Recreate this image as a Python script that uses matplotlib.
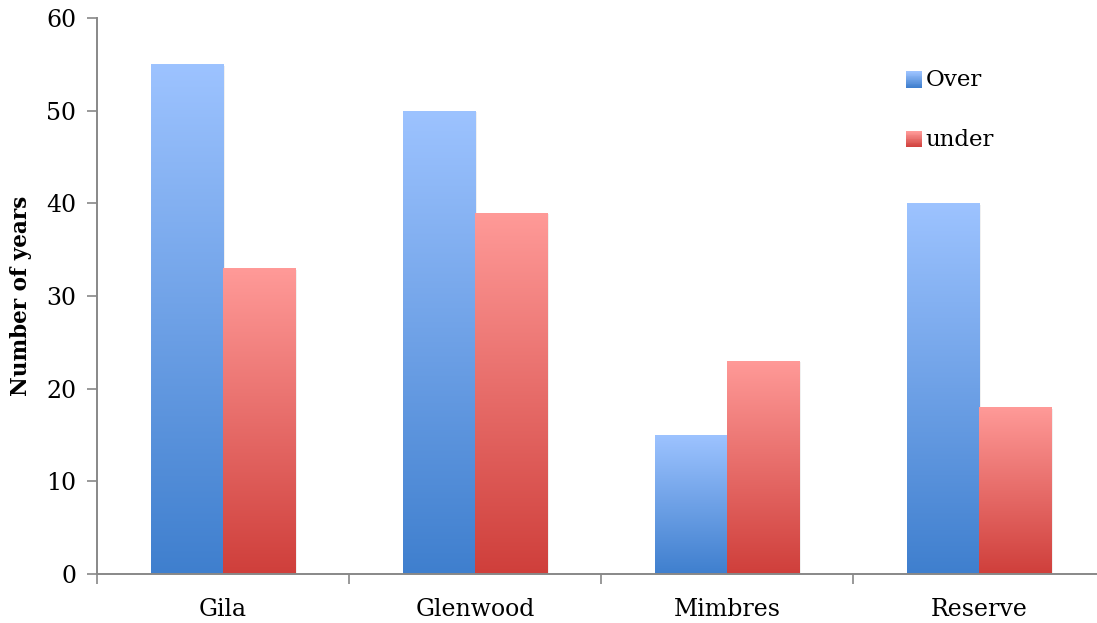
import numpy as np
import matplotlib
matplotlib.use("Agg")
import matplotlib.pyplot as plt
from matplotlib.colors import LinearSegmentedColormap
from matplotlib.patches import Rectangle
from matplotlib.legend_handler import HandlerBase

categories = ["Gila", "Glenwood", "Mimbres", "Reserve"]
over_values = [55, 50, 15, 40]
under_values = [33, 39, 23, 18]
series_names = ["Over", "under"]
y_ticks = [0, 10, 20, 30, 40, 50, 60]

blue_top, blue_bot = "#9DC3FF", "#3F7FCE"
red_top, red_bot = "#FF9A98", "#CF3F3B"

plt.rcParams["font.family"] = ["DejaVu Serif"]

fig = plt.figure(figsize=(10.97, 6.23), dpi=100)
ax = fig.add_axes([97 / 1097, 1 - 574 / 623, 1008 / 1097, (574 - 18) / 623])

x = np.arange(len(categories))
w = 0.286
bars_o = ax.bar(x - w / 2, over_values, w, color="none", edgecolor="none")
bars_u = ax.bar(x + w / 2, under_values, w, color="none", edgecolor="none")

grad = np.linspace(1, 0, 256).reshape(-1, 1)


def fill_gradient(bars, top, bot):
    cmap = LinearSegmentedColormap.from_list("g", [bot, top])
    for b in bars:
        x0, y0 = b.get_x(), b.get_y()
        bw, bh = b.get_width(), b.get_height()
        im = ax.imshow(grad, cmap=cmap, vmin=0, vmax=1, aspect="auto",
                       extent=[x0, x0 + bw, y0, y0 + bh], zorder=2,
                       interpolation="bilinear")
        im.set_clip_path(b)
        sh = Rectangle((x0 + 0.006, y0), bw, bh - 0.15, facecolor="#000000",
                       alpha=0.06, edgecolor="none", zorder=1.5)
        ax.add_patch(sh)


fill_gradient(bars_o, blue_top, blue_bot)
fill_gradient(bars_u, red_top, red_bot)

ax.set_xlim(-0.5, len(categories) - 0.5)
ax.set_ylim(0, 60)
ax.set_yticks(y_ticks)
ax.set_yticklabels([str(t) for t in y_ticks])
ax.set_xticks(x)
ax.set_xticklabels(categories)
ax.set_xticks(np.arange(-0.5, len(categories) + 0.5, 1), minor=True)
ax.tick_params(axis="x", which="major", length=0, pad=17, labelsize=17)
ax.tick_params(axis="x", which="minor", length=7, width=1.2, color="#888888", direction="out")
ax.tick_params(axis="y", length=7, width=1.2, color="#888888", labelsize=17, pad=8)

for s in ["top", "right"]:
    ax.spines[s].set_visible(False)
for s in ["left", "bottom"]:
    ax.spines[s].set_color("#888888")
    ax.spines[s].set_linewidth(1.4)

ax.set_ylabel("Number of years", fontsize=15.5, fontweight="bold", labelpad=10)


class GradHandler(HandlerBase):
    def __init__(self, top, bot):
        super().__init__()
        self.top, self.bot = top, bot

    def create_artists(self, legend, orig_handle, xdescent, ydescent, width,
                       height, fontsize, trans):
        cmap = LinearSegmentedColormap.from_list("g", [self.bot, self.top])
        n = 20
        s = 11.5
        y0 = -ydescent + (height - s) / 2 - 1
        arts = []
        for i in range(n):
            r = Rectangle((-xdescent, y0 + i * s / n), s, s / n + 0.3,
                          facecolor=cmap(i / (n - 1)), edgecolor="none",
                          transform=trans)
            arts.append(r)
        return arts


h1 = Rectangle((0, 0), 1, 1)
h2 = Rectangle((0, 0), 1, 1)
leg = ax.legend([h1, h2], series_names, loc="upper left",
                bbox_to_anchor=(800 / 1008, 1 - 42 / 556), frameon=False,
                fontsize=16.5, handlelength=0.7, handletextpad=0.15,
                labelspacing=1.65, borderaxespad=0,
                handler_map={h1: GradHandler(blue_top, blue_bot),
                             h2: GradHandler(red_top, red_bot)})

fig.savefig("out.png", dpi=100)
